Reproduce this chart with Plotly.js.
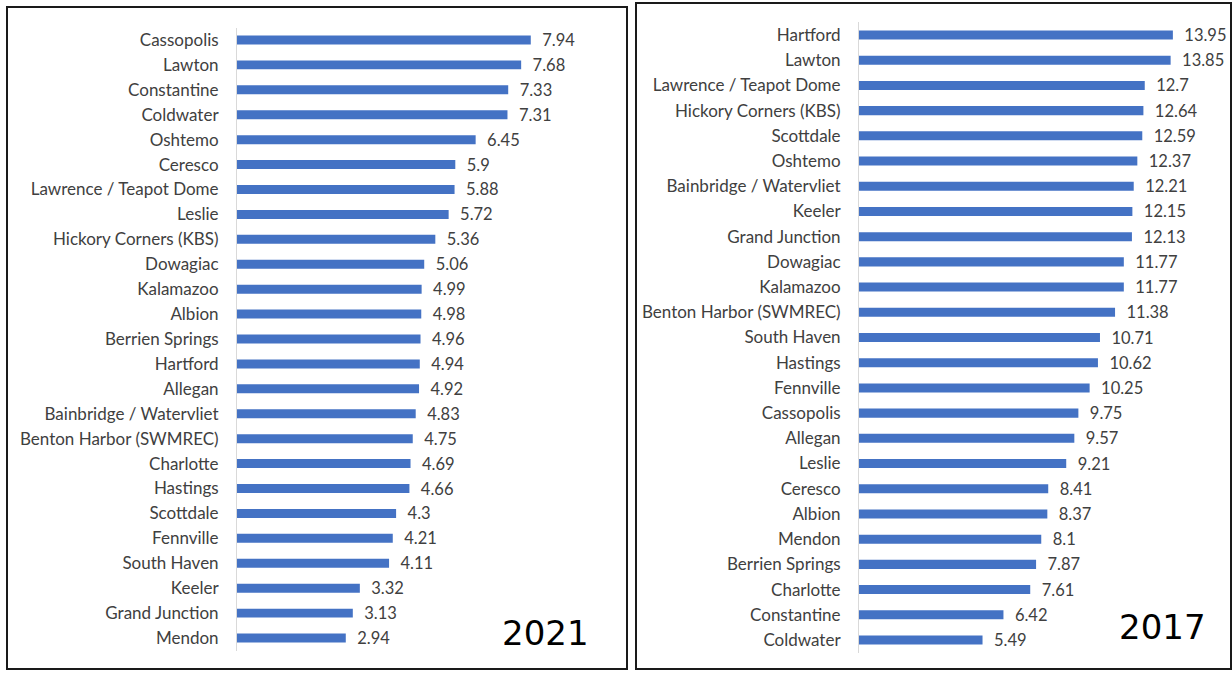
<!DOCTYPE html>
<html>
<head>
<meta charset="utf-8">
<script src="https://cdn.plot.ly/plotly-3.0.1.min.js"></script>
<style>html,body{margin:0;padding:0;background:#fff;}#chart{width:1232px;height:673px;}</style>
</head>
<body>
<div id="chart"></div>
<script>
const cities2021 = ["Cassopolis","Lawton","Constantine","Coldwater","Oshtemo","Ceresco","Lawrence / Teapot Dome","Leslie","Hickory Corners (KBS)","Dowagiac","Kalamazoo","Albion","Berrien Springs","Hartford","Allegan","Bainbridge / Watervliet","Benton Harbor (SWMREC)","Charlotte","Hastings","Scottdale","Fennville","South Haven","Keeler","Grand Junction","Mendon"];
const values2021 = [7.94,7.68,7.33,7.31,6.45,5.9,5.88,5.72,5.36,5.06,4.99,4.98,4.96,4.94,4.92,4.83,4.75,4.69,4.66,4.3,4.21,4.11,3.32,3.13,2.94];

const cities2017 = ["Hartford","Lawton","Lawrence / Teapot Dome","Hickory Corners (KBS)","Scottdale","Oshtemo","Bainbridge / Watervliet","Keeler","Grand Junction","Dowagiac","Kalamazoo","Benton Harbor (SWMREC)","South Haven","Hastings","Fennville","Cassopolis","Allegan","Leslie","Ceresco","Albion","Mendon","Berrien Springs","Charlotte","Constantine","Coldwater"];
const values2017 = [13.95,13.85,12.7,12.64,12.59,12.37,12.21,12.15,12.13,11.77,11.77,11.38,10.71,10.62,10.25,9.75,9.57,9.21,8.41,8.37,8.1,7.87,7.61,6.42,5.49];

const panelYears = ["2021","2017"];

const W = 1232, H = 673;
const px = x => x / W;
const py = y => 1 - y / H;

const barColor = "#4472C4";
const textColor = "#404040";
const tickFont = {family: "Lato, Carlito, Calibri, sans-serif", size: 17, color: textColor};
const labelFont = {family: "Lato, Carlito, Calibri, sans-serif", size: 16.5, color: textColor};

const traces = [
  {
    type: "bar", orientation: "h",
    x: values2021, y: cities2021,
    xaxis: "x", yaxis: "y",
    marker: {color: barColor},
    texttemplate: "\u00a0\u00a0%{x}",
    textposition: "outside",
    constraintext: "none",
    textfont: labelFont,
    cliponaxis: false,
    hoverinfo: "x+y"
  },
  {
    type: "bar", orientation: "h",
    x: values2017, y: cities2017,
    xaxis: "x2", yaxis: "y2",
    marker: {color: barColor},
    texttemplate: "\u00a0\u00a0%{x}",
    textposition: "outside",
    constraintext: "none",
    textfont: labelFont,
    cliponaxis: false,
    hoverinfo: "x+y"
  }
];

const xCommon = {showgrid: false, zeroline: false, showticklabels: false, ticks: "", showline: false, fixedrange: true};
const yCommon = {
  type: "category", autorange: "reversed", showgrid: false, zeroline: false,
  showline: true, linecolor: "#d9d9d9", linewidth: 1,
  ticks: "", ticklabelstandoff: 14, tickfont: tickFont, fixedrange: true
};

const layout = {
  width: W, height: H,
  margin: {l: 0, r: 0, t: 0, b: 0},
  paper_bgcolor: "#ffffff", plot_bgcolor: "rgba(0,0,0,0)",
  showlegend: false,
  bargap: 0.64,
  xaxis: Object.assign({}, xCommon, {domain: [px(237), px(607)], range: [0, 10], anchor: "y"}),
  yaxis: Object.assign({}, yCommon, {domain: [py(650.5), py(27.5)], anchor: "x"}),
  xaxis2: Object.assign({}, xCommon, {domain: [px(859), px(1196.5)], range: [0, 15], anchor: "y2"}),
  yaxis2: Object.assign({}, yCommon, {domain: [py(652.6), py(22.4)], anchor: "x2"}),
  shapes: [
    {type: "rect", xref: "paper", yref: "paper", x0: px(7), x1: px(627), y0: py(669), y1: py(7),
     line: {color: "#1a1a1a", width: 2}, fillcolor: "rgba(0,0,0,0)"},
    {type: "rect", xref: "paper", yref: "paper", x0: px(636), x1: px(1231), y0: py(669), y1: py(3),
     line: {color: "#1a1a1a", width: 2}, fillcolor: "rgba(0,0,0,0)"}
  ],
  annotations: [
    {xref: "paper", yref: "paper", x: px(545), y: py(633), text: panelYears[0], showarrow: false,
     xanchor: "center", yanchor: "middle", font: {family: "DejaVu Sans, Verdana, sans-serif", size: 34, color: "#000"}},
    {xref: "paper", yref: "paper", x: px(1162), y: py(627), text: panelYears[1], showarrow: false,
     xanchor: "center", yanchor: "middle", font: {family: "DejaVu Sans, Verdana, sans-serif", size: 34, color: "#000"}}
  ]
};

Plotly.newPlot("chart", traces, layout, {displayModeBar: false, staticPlot: true});
</script>
</body>
</html>
